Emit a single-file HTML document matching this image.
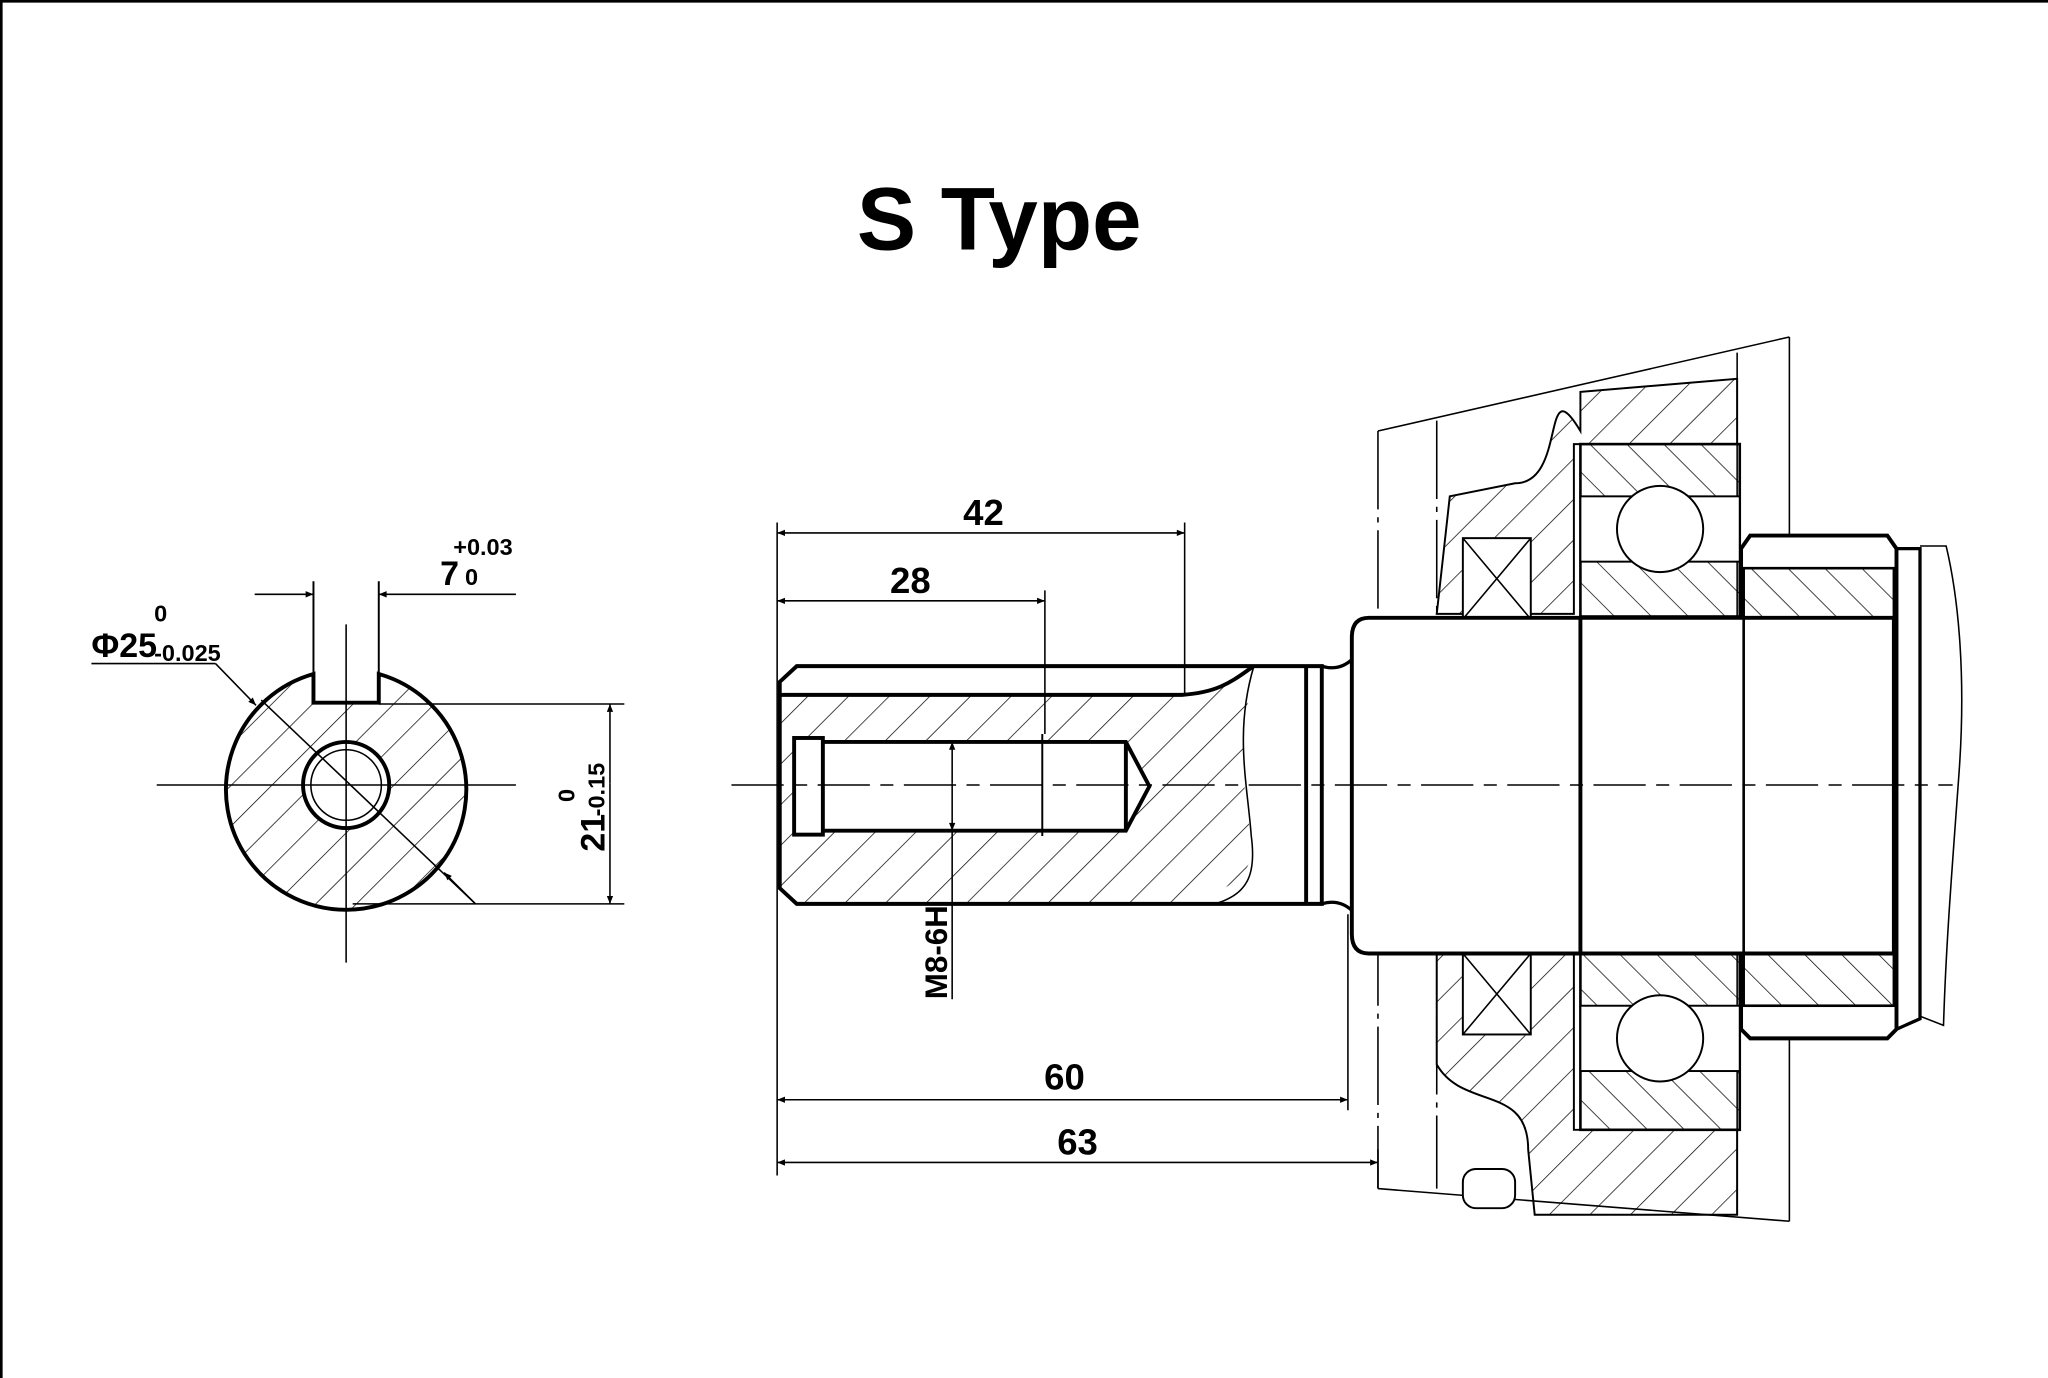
<!DOCTYPE html>
<html><head><meta charset="utf-8"><style>
html,body{margin:0;padding:0;background:#fff;}
svg{display:block;}
</style></head><body>
<svg width="2048" height="1378" viewBox="0 0 1568 1055" xmlns="http://www.w3.org/2000/svg">
<defs>
<pattern id="h" width="22" height="22" patternUnits="userSpaceOnUse" patternTransform="rotate(45)">
<line x1="0" y1="0" x2="0" y2="22" stroke="#000" stroke-width="1.1"/>
</pattern>
<pattern id="h2" width="20" height="20" patternUnits="userSpaceOnUse" patternTransform="rotate(-45)">
<line x1="0" y1="0" x2="0" y2="20" stroke="#000" stroke-width="1.1"/>
</pattern>
<marker id="a" viewBox="0 0 10 10" refX="10" refY="5" markerWidth="14" markerHeight="6" orient="auto-start-reverse" markerUnits="userSpaceOnUse">
<path d="M0,1 L10,5 L0,9 Z" fill="#000"/>
</marker>
</defs>
<rect width="1568" height="1055" fill="#fff"/>
<path d="M1,1055 V1 H1568" fill="none" stroke="#000" stroke-width="2"/>
<text x="765" y="191" font-family="Liberation Sans, sans-serif" font-weight="bold" font-size="68" text-anchor="middle">S Type</text>

<g fill="none" stroke="#000">
<path d="M240,516 A92,92 0 1,0 290,516 L290,538 L240,538 Z" fill="url(#h)" stroke-width="3"/>
<circle cx="265" cy="601" r="33" fill="#fff" stroke-width="3"/>
<circle cx="265" cy="601" r="27" stroke-width="1.2"/>
<line x1="120" y1="601" x2="395" y2="601" stroke-width="1.2"/>
<line x1="265" y1="478" x2="265" y2="737" stroke-width="1.2"/>
<line x1="240" y1="445" x2="240" y2="538" stroke-width="1.5"/>
<line x1="290" y1="445" x2="290" y2="538" stroke-width="1.5"/>
<line x1="195" y1="455" x2="240" y2="455" stroke-width="1.2" marker-end="url(#a)"/>
<line x1="395" y1="455" x2="290" y2="455" stroke-width="1.2" marker-end="url(#a)"/>
<line x1="290" y1="539" x2="478" y2="539" stroke-width="1.2"/>
<line x1="270" y1="692" x2="478" y2="692" stroke-width="1.2"/>
<line x1="467" y1="600" x2="467" y2="539" stroke-width="1.2" marker-end="url(#a)"/>
<line x1="467" y1="600" x2="467" y2="692" stroke-width="1.2" marker-end="url(#a)"/>
<line x1="70" y1="508" x2="165" y2="508" stroke-width="1.2"/>
<line x1="165" y1="508" x2="196" y2="540" stroke-width="1.2" marker-end="url(#a)"/>
<line x1="200" y1="536" x2="364" y2="692" stroke-width="1.2"/>
<line x1="364" y1="692" x2="340" y2="668" stroke-width="1.2" marker-end="url(#a)"/>

<path d="M1055,330 L1055,910 M1100,322 L1100,910" stroke-width="1.2" stroke-dasharray="60,6,4,6"/>
<path d="M1055,330 L1370,258" stroke-width="1.2"/>
<path d="M1055,910 L1370,935" stroke-width="1.2"/>
<path d="M1370,258 L1370,935" stroke-width="1.2"/>
<path d="M1330,270 L1330,930" stroke-width="1.2"/>
<path d="M1210,330 C1180,280 1200,370 1160,370 L1110,380 L1100,470 L1205,470 L1205,340 L1330,340 L1330,290 L1210,300 Z" fill="url(#h)" stroke-width="1.5"/>
<path d="M1100,730 L1100,815 C1120,850 1170,830 1170,880 L1175,930 L1330,930 L1330,865 L1205,865 L1205,730 Z" fill="url(#h)" stroke-width="1.5"/>
<rect x="1120" y="412" width="52" height="62" fill="#fff" stroke-width="1.5"/>
<path d="M1120,412 L1172,474 M1172,412 L1120,474" stroke-width="1.2"/>
<rect x="1120" y="730" width="52" height="62" fill="#fff" stroke-width="1.5"/>
<path d="M1120,730 L1172,792 M1172,730 L1120,792" stroke-width="1.2"/>
<rect x="1120" y="895" width="40" height="30" rx="10" fill="#fff" stroke-width="1.5"/>
<rect x="1210" y="340" width="122" height="132" fill="url(#h2)" stroke-width="2"/>
<rect x="1210" y="380" width="122" height="50" fill="#fff" stroke-width="1.5"/>
<circle cx="1271" cy="405" r="33" fill="#fff" stroke-width="1.5"/>
<rect x="1210" y="730" width="122" height="135" fill="url(#h2)" stroke-width="2"/>
<rect x="1210" y="770" width="122" height="50" fill="#fff" stroke-width="1.5"/>
<circle cx="1271" cy="795" r="33" fill="#fff" stroke-width="1.5"/>
<path d="M1340,410 L1445,410 L1452,420 L1452,788 L1445,795 L1340,795 L1333,788 L1333,420 Z" fill="#fff" stroke-width="3"/>
<rect x="1335" y="435" width="115" height="40" fill="url(#h2)" stroke-width="2"/>
<rect x="1335" y="730" width="115" height="40" fill="url(#h2)" stroke-width="2"/>
<line x1="1335" y1="475" x2="1450" y2="475" stroke-width="3"/>
<line x1="1335" y1="730" x2="1450" y2="730" stroke-width="3"/>
<path d="M1452,420 L1470,420 L1470,780 L1452,788" stroke-width="2.5"/>
<path d="M1470,418 L1490,418 C1500,460 1505,520 1500,590 C1495,660 1490,720 1488,785 L1470,778" stroke-width="1.2"/>

<path d="M1048,473 L1450,473 L1450,730 L1048,730 Q1035,730 1035,715 L1035,488 Q1035,473 1048,473 Z" fill="#fff" stroke-width="3"/>
<line x1="1210" y1="473" x2="1210" y2="730" stroke-width="3"/>
<line x1="1335" y1="473" x2="1335" y2="730" stroke-width="2"/>
<path d="M1012,510 Q1025,514 1035,505 M1012,692 Q1025,688 1035,697" stroke-width="2.5"/>
<path d="M610,510 L1012,510 L1012,692 L610,692 L597,680 L597,522 Z" fill="#fff" stroke-width="3"/>
<path d="M610,532 L905,532 C935,530 945,520 960,510 C950,560 950,600 958,640 C965,680 920,690 880,692 L610,692 L597,680 L597,532 Z" fill="url(#h)" stroke-width="0"/>
<path d="M597,532 L905,532 C935,530 945,520 960,510" stroke-width="3"/>
<path d="M960,510 C945,560 955,600 958,640 C962,670 955,685 930,692" stroke-width="1.2"/>
<line x1="1000" y1="510" x2="1000" y2="692" stroke-width="3"/>
<path d="M612,568 L862,568 L880,602 L862,636 L612,636 Z" fill="#fff" stroke-width="3"/>
<rect x="608" y="565" width="22" height="74" fill="#fff" stroke-width="3"/>
<line x1="862" y1="568" x2="862" y2="636" stroke-width="3"/>
<line x1="798" y1="562" x2="798" y2="640" stroke-width="1.5"/>
<line x1="560" y1="601" x2="1495" y2="601" stroke-width="1.2" stroke-dasharray="40,8,10,8"/>
<line x1="729" y1="600" x2="729" y2="568" stroke-width="1.2" marker-end="url(#a)"/>
<line x1="729" y1="600" x2="729" y2="636" stroke-width="1.2" marker-end="url(#a)"/>
<line x1="729" y1="636" x2="729" y2="765" stroke-width="1.2"/>

<line x1="595" y1="400" x2="595" y2="900" stroke-width="1.2"/>
<line x1="907" y1="400" x2="907" y2="532" stroke-width="1.2"/>
<line x1="800" y1="452" x2="800" y2="562" stroke-width="1.2"/>
<line x1="1032" y1="700" x2="1032" y2="850" stroke-width="1.2"/>
<line x1="1055" y1="880" x2="1055" y2="910" stroke-width="1.2"/>
<line x1="595" y1="408" x2="907" y2="408" stroke-width="1.2" marker-start="url(#a)" marker-end="url(#a)"/>
<line x1="595" y1="460" x2="800" y2="460" stroke-width="1.2" marker-start="url(#a)" marker-end="url(#a)"/>
<line x1="595" y1="842" x2="1032" y2="842" stroke-width="1.2" marker-start="url(#a)" marker-end="url(#a)"/>
<line x1="595" y1="890" x2="1055" y2="890" stroke-width="1.2" marker-start="url(#a)" marker-end="url(#a)"/>
</g>

<g font-family="Liberation Sans Narrow, Liberation Sans, sans-serif" font-weight="bold" fill="#000">
<text x="753" y="402" font-size="28" text-anchor="middle">42</text>
<text x="697" y="454" font-size="28" text-anchor="middle">28</text>
<text x="815" y="834" font-size="28" text-anchor="middle">60</text>
<text x="825" y="884" font-size="28" text-anchor="middle">63</text>
<text x="337" y="448" font-size="26">7</text>
<text x="347" y="425" font-size="18">+0.03</text>
<text x="356" y="448" font-size="18">0</text>
<text x="70" y="503" font-size="26">Φ25</text>
<text x="118" y="476" font-size="18">0</text>
<text x="118" y="506" font-size="18">-0.025</text>
<text transform="translate(463,652) rotate(-90)" font-size="26">21</text>
<text transform="translate(463,625) rotate(-90)" font-size="18">-0.15</text>
<text transform="translate(440,614) rotate(-90)" font-size="18">0</text>
<text transform="translate(725,765) rotate(-90)" font-size="24">M8-6H</text>
</g>
</svg>
</body></html>
